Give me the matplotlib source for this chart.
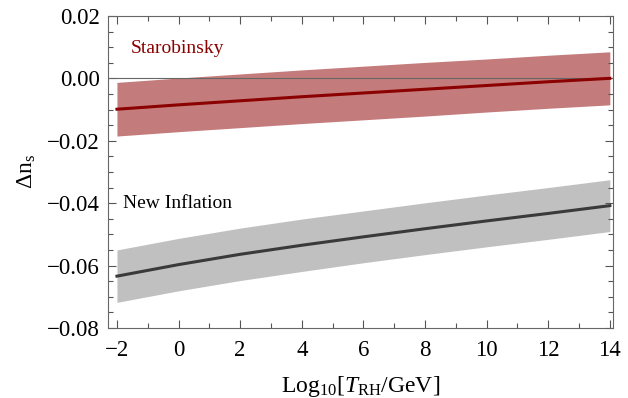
import matplotlib
matplotlib.use("Agg")
import matplotlib.pyplot as plt
from matplotlib.ticker import MultipleLocator

# log10(T_RH / GeV)
log_trh = [-2, 0, 2, 4, 6, 8, 10, 12, 14]

staro_mid = [-0.0099, -0.0085, -0.0072, -0.0059, -0.0047, -0.0035, -0.0023, -0.0011, 0.0000]
staro_half = [0.0086, 0.0086, 0.0086, 0.0086, 0.0086, 0.0086, 0.0085, 0.0085, 0.0085]

newinf_mid = [-0.0634, -0.0597, -0.0564, -0.0535, -0.0508, -0.0482, -0.0457, -0.0433, -0.0408]
newinf_half = [0.0084, 0.0084, 0.0084, 0.0084, 0.0083, 0.0083, 0.0083, 0.0083, 0.0083]

plt.rcParams["font.family"] = ["Liberation Serif", "DejaVu Serif"]
plt.rcParams["mathtext.fontset"] = "custom"
plt.rcParams["mathtext.rm"] = "Liberation Serif"
plt.rcParams["mathtext.it"] = "Liberation Serif:italic"

fig = plt.figure(figsize=(6.28, 3.98), dpi=100)
ax = fig.add_axes([0.172, 0.176, 0.804, 0.784])

lo = [m - h for m, h in zip(staro_mid, staro_half)]
hi = [m + h for m, h in zip(staro_mid, staro_half)]
ax.fill_between(log_trh, lo, hi, color="#c47b7b", lw=0, zorder=1)
ax.plot(log_trh, staro_mid, color="#8b0000", lw=2.2, zorder=3)

lo = [m - h for m, h in zip(newinf_mid, newinf_half)]
hi = [m + h for m, h in zip(newinf_mid, newinf_half)]
ax.fill_between(log_trh, lo, hi, color="#c0c0c0", lw=0, zorder=1)
ax.plot(log_trh, newinf_mid, color="#3a3a3a", lw=2.2, zorder=3)

ax.axhline(0, color="#666666", lw=0.8, zorder=2)

ax.text(-1.55, 0.0096, "Starobinsky", color="#8b0000", fontsize=14, va="center")
ax.text(-1.8, -0.040, "New Inflation", color="black", fontsize=14, va="center")

ax.set_xlim(-2.29, 14.1)
ax.set_ylim(-0.08, 0.02)
ax.xaxis.set_major_locator(MultipleLocator(2))
ax.xaxis.set_minor_locator(MultipleLocator(1))
ax.yaxis.set_major_locator(MultipleLocator(0.02))
ax.yaxis.set_minor_locator(MultipleLocator(0.005))
ax.xaxis.set_major_formatter(plt.FuncFormatter(lambda v, p: f"{int(round(v))}".replace("-", "\u2212")))
ax.yaxis.set_major_formatter(plt.FuncFormatter(lambda v, p: f"{v:.2f}".replace("-", "\u2212")))

ax.tick_params(which="both", direction="in", top=True, right=True, color="#555555",
               labelsize=16.5, width=0.8)
ax.tick_params(which="major", length=6)
ax.tick_params(which="minor", length=3.5)
ax.tick_params(axis="x", which="major", pad=9)
ax.tick_params(axis="y", which="major", pad=6)
for s in ax.spines.values():
    s.set_color("#666666")
    s.set_linewidth(0.8)

ax.set_xlabel(r"Log$_{10}$[$\mathit{T}_{\mathrm{RH}}$/GeV]", fontsize=17, labelpad=9)
ax.set_ylabel(r"$\Delta$n$_{\mathrm{s}}$", fontsize=17, labelpad=6)

fig.savefig("out.png", dpi=100)
